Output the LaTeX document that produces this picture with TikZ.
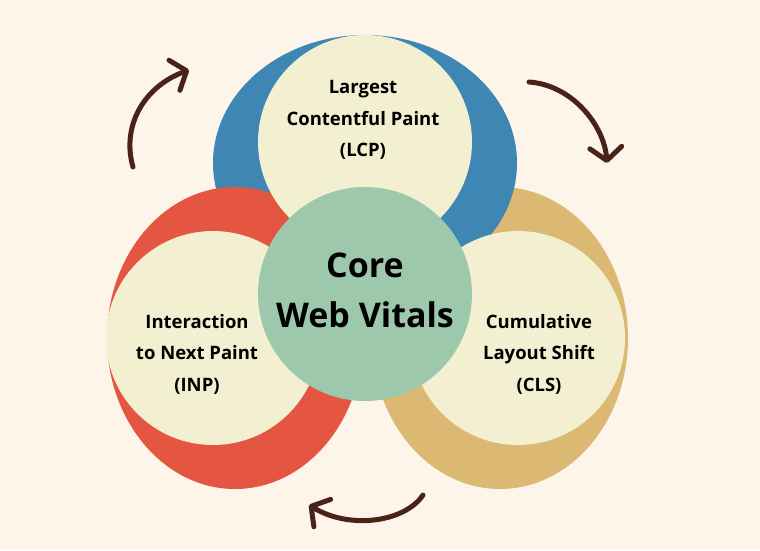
\documentclass[tikz,border=0pt]{standalone}
\usepackage{fontspec}
\setmainfont{Open Sans}
\usetikzlibrary{positioning, calc, shapes.geometric, arrows.meta}

\definecolor{pagecream}{HTML}{FDF5EA}
\definecolor{lcpblue}{HTML}{3E86B4}
\definecolor{inpred}{HTML}{E45542}
\definecolor{clsgold}{HTML}{DCB972}
\definecolor{disccream}{HTML}{F2F0D0}
\definecolor{coregreen}{HTML}{9EC8AC}
\definecolor{arrowbrown}{HTML}{4A2318}

\begin{document}
\begin{tikzpicture}[x=1pt, y=-1pt,
    ring/.style={ellipse, inner sep=0pt, minimum width=256pt, minimum height=302pt},
    disc/.style={circle, inner sep=0pt, minimum size=214pt, fill=disccream},
    metric/.style={font=\fontsize{18.5}{31.5}\selectfont\bfseries, align=center},
    turnarrow/.style={draw=arrowbrown, line width=5pt, line cap=round,
        -{Straight Barb[length=13pt, width=32pt, round]}}]
    \fill[pagecream] (0,0) rectangle (760,550);
    \useasboundingbox (0,0) rectangle (760,550);

    % coloured rings
    \node[ring, fill=clsgold] (clsring) at (500,338) {};
    \node[ellipse, inner sep=0pt, minimum width=304pt, minimum height=256pt, fill=lcpblue] (lcpring) at (365,163) {};
    \node[ring, fill=inpred] (inpring) at (235,338) {};

    % the three metrics
    \node[disc] (lcpdisc) at (365,142) {};
    \node[disc] (inpdisc) at (213,338) {};
    \node[disc] (clsdisc) at (518,338) {};
    \node[circle, inner sep=0pt, minimum size=214pt, fill=coregreen] (core) at (365,294) {};

    \node[metric] (lcp) at (363,120) {Largest\\Contentful Paint\\(LCP)};
    \node[metric] (inp) at (197,354) {Interaction\\to Next Paint\\(INP)};
    \node[metric] (cls) at (539,354) {Cumulative\\Layout Shift\\(CLS)};
    \node[font=\fontsize{34}{50}\selectfont\bfseries, align=center] (corelabel) at (365,290) {Core\\Web Vitals};

    % cycle arrows
    \coordinate (a1s) at (133,167);
    \coordinate (a1e) at (189,70);
    \coordinate (a2s) at (529,82);
    \coordinate (a2e) at (607,163);
    \coordinate (a3s) at (423,495);
    \coordinate (a3e) at (309,505);
    \draw[turnarrow] (a1s) .. controls (121,125) and (145,86) .. (a1e);
    \draw[turnarrow] (a2s) .. controls (572,85) and (604,125) .. (a2e);
    \draw[turnarrow] (a3s) .. controls (405,522) and (350,530) .. (a3e);
\end{tikzpicture}
\end{document}
